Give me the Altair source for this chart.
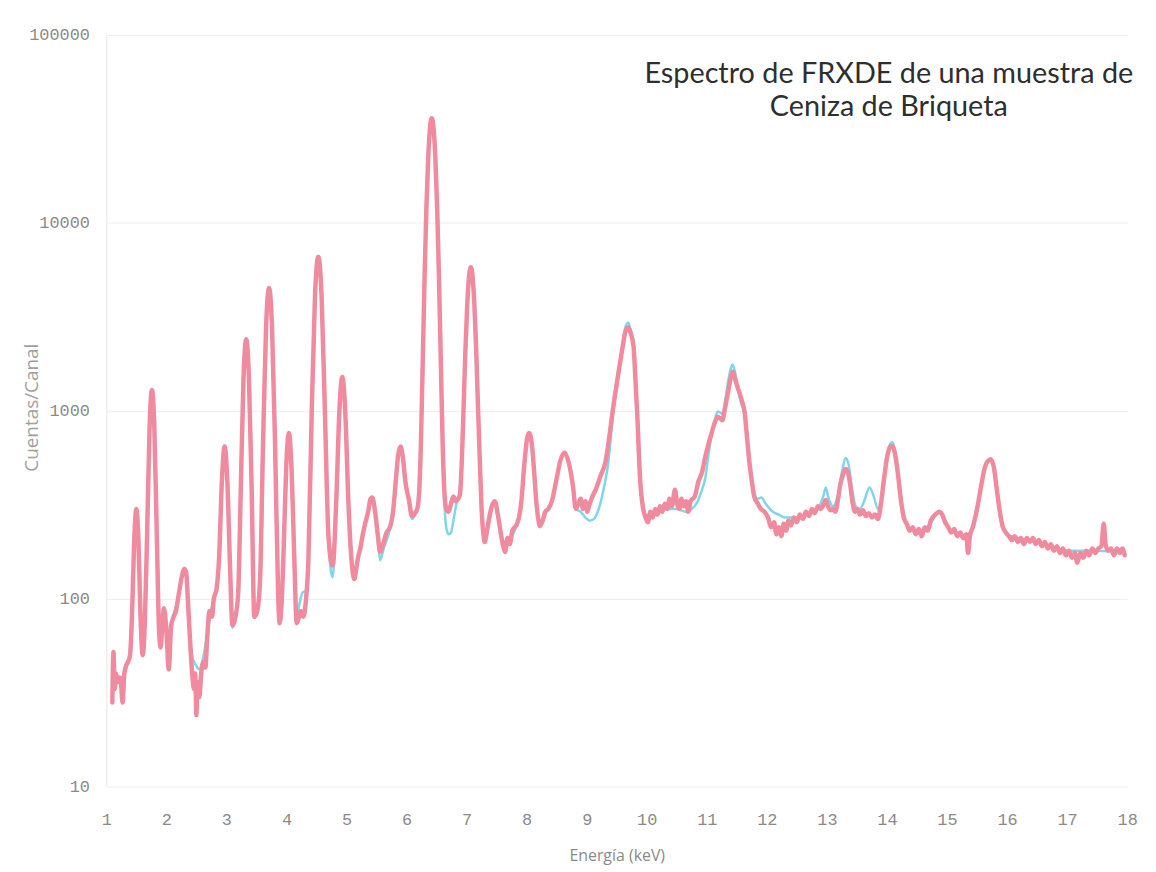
import altair as alt
import pandas as pd

# Measured spectrum (pink): (energy keV, counts/channel)
measured = [
    (1.10, 28), (1.12, 52), (1.14, 33), (1.16, 40), (1.19, 36), (1.22, 38), (1.25, 34), (1.27, 28),
    (1.30, 40), (1.33, 44), (1.36, 46), (1.395, 50), (1.43, 85), (1.465, 205), (1.50, 300), (1.535, 205),
    (1.57, 80), (1.605, 50), (1.64, 72), (1.68, 225), (1.72, 805), (1.76, 1290), (1.80, 805), (1.84, 225),
    (1.88, 66), (1.905, 55), (1.93, 70), (1.96, 89), (2.00, 68), (2.04, 42), (2.08, 72), (2.12, 80),
    (2.16, 86), (2.19, 98), (2.22, 112), (2.26, 132), (2.30, 144), (2.33, 138), (2.36, 96), (2.40, 56),
    (2.43, 40), (2.46, 33), (2.48, 40), (2.50, 24), (2.52, 36), (2.55, 30), (2.58, 40), (2.62, 46),
    (2.65, 43), (2.68, 62), (2.72, 86), (2.76, 80), (2.79, 100), (2.835, 112), (2.88, 170), (2.925, 425),
    (2.97, 645), (3.015, 425), (3.06, 150), (3.10, 72), (3.15, 80), (3.195, 105), (3.24, 390), (3.285, 1490),
    (3.33, 2400), (3.375, 1490), (3.42, 390), (3.465, 80), (3.51, 85), (3.56, 125), (3.61, 670), (3.66, 2760),
    (3.71, 4500), (3.76, 2760), (3.81, 670), (3.86, 110), (3.885, 74), (3.92, 95), (3.95, 170), (3.995, 490),
    (4.04, 760), (4.085, 490), (4.13, 168), (4.17, 74), (4.20, 78), (4.24, 86), (4.28, 80), (4.32, 95),
    (4.365, 160), (4.42, 970), (4.475, 4050), (4.53, 6600), (4.585, 4050), (4.64, 1000), (4.695, 230), (4.74, 160),
    (4.77, 150), (4.83, 335), (4.88, 975), (4.93, 1510), (4.98, 975), (5.03, 335), (5.08, 165), (5.13, 127),
    (5.17, 150), (5.20, 170), (5.23, 185), (5.26, 210), (5.30, 243), (5.36, 290), (5.40, 340), (5.43, 345),
    (5.47, 300), (5.52, 220), (5.56, 177), (5.60, 190), (5.66, 222), (5.73, 243), (5.78, 300), (5.82, 420),
    (5.86, 580), (5.90, 645), (5.94, 560), (5.98, 420), (6.04, 335), (6.09, 275), (6.14, 285), (6.18, 302),
    (6.21, 370), (6.24, 690), (6.27, 1860), (6.30, 5100), (6.33, 11900), (6.36, 22000), (6.39, 31800), (6.42, 36000),
    (6.45, 31800), (6.48, 22000), (6.51, 11900), (6.54, 5100), (6.57, 1860), (6.60, 690), (6.63, 370), (6.66, 302),
    (6.70, 290), (6.74, 320), (6.78, 350), (6.82, 330), (6.86, 340), (6.89, 360), (6.92, 540), (6.95, 1040),
    (6.98, 2090), (7.01, 3640), (7.04, 5150), (7.07, 5800), (7.10, 5150), (7.13, 3640), (7.16, 2090), (7.19, 1040),
    (7.22, 540), (7.25, 300), (7.28, 220), (7.30, 200), (7.33, 220), (7.37, 262), (7.42, 310), (7.47, 330),
    (7.52, 280), (7.57, 222), (7.61, 190), (7.64, 177), (7.68, 210), (7.72, 195), (7.76, 230), (7.80, 240),
    (7.84, 250), (7.89, 290), (7.92, 350), (7.95, 470), (7.98, 600), (8.01, 720), (8.04, 760), (8.07, 720),
    (8.10, 600), (8.13, 450), (8.16, 330), (8.19, 270), (8.22, 243), (8.27, 262), (8.31, 290), (8.36, 300),
    (8.42, 330), (8.49, 420), (8.56, 540), (8.63, 600), (8.70, 530), (8.77, 400), (8.82, 300), (8.86, 320),
    (8.90, 340), (8.94, 300), (8.98, 330), (9.01, 290), (9.04, 312), (9.08, 340), (9.15, 380), (9.23, 450),
    (9.31, 530), (9.37, 700), (9.43, 980), (9.53, 1600), (9.60, 2200), (9.64, 2600), (9.69, 2780), (9.73, 2600),
    (9.78, 2200), (9.81, 1500), (9.84, 980), (9.89, 430), (9.94, 300), (9.98, 270), (10.02, 255), (10.06, 290),
    (10.10, 270), (10.14, 300), (10.18, 280), (10.22, 310), (10.26, 290), (10.30, 320), (10.34, 300), (10.38, 340),
    (10.42, 310), (10.47, 380), (10.50, 330), (10.54, 300), (10.58, 340), (10.62, 310), (10.66, 330), (10.69, 290),
    (10.73, 330), (10.80, 350), (10.86, 420), (10.92, 470), (10.97, 560), (11.02, 650), (11.08, 760), (11.13, 860),
    (11.18, 930), (11.22, 910), (11.26, 890), (11.30, 1020), (11.35, 1240), (11.40, 1500), (11.43, 1610), (11.47, 1480),
    (11.51, 1340), (11.55, 1230), (11.58, 1140), (11.63, 980), (11.67, 720), (11.71, 530), (11.75, 420), (11.79, 350),
    (11.85, 320), (11.90, 300), (11.96, 290), (12.02, 270), (12.07, 240), (12.12, 255), (12.16, 220), (12.20, 240),
    (12.24, 215), (12.28, 250), (12.32, 230), (12.36, 260), (12.40, 245), (12.45, 270), (12.50, 255), (12.55, 280),
    (12.60, 265), (12.65, 290), (12.70, 275), (12.75, 300), (12.80, 285), (12.85, 310), (12.90, 300), (12.95, 320),
    (12.98, 335), (13.02, 310), (13.06, 295), (13.10, 300), (13.14, 290), (13.18, 330), (13.22, 400), (13.27, 460),
    (13.31, 490), (13.35, 470), (13.39, 400), (13.43, 320), (13.47, 290), (13.51, 300), (13.55, 280), (13.60, 295),
    (13.65, 275), (13.70, 285), (13.75, 270), (13.80, 280), (13.85, 265), (13.90, 320), (13.95, 430), (14.00, 560),
    (14.05, 640), (14.09, 650), (14.13, 600), (14.18, 470), (14.23, 340), (14.28, 270), (14.33, 250), (14.38, 230),
    (14.43, 240), (14.48, 220), (14.53, 235), (14.58, 215), (14.63, 240), (14.68, 230), (14.73, 260), (14.78, 275),
    (14.83, 285), (14.87, 290), (14.92, 280), (14.97, 255), (15.02, 240), (15.07, 225), (15.12, 235), (15.17, 215),
    (15.22, 225), (15.27, 210), (15.32, 220), (15.35, 175), (15.38, 215), (15.43, 240), (15.50, 300), (15.57, 400),
    (15.63, 500), (15.68, 540), (15.73, 550), (15.78, 500), (15.83, 380), (15.88, 290), (15.93, 240), (15.98, 225),
    (16.03, 215), (16.08, 205), (16.13, 215), (16.18, 200), (16.23, 210), (16.28, 195), (16.33, 210), (16.38, 200),
    (16.43, 210), (16.48, 195), (16.53, 205), (16.58, 190), (16.63, 200), (16.68, 185), (16.73, 195), (16.78, 180),
    (16.83, 190), (16.88, 175), (16.93, 185), (16.98, 170), (17.03, 180), (17.08, 165), (17.13, 175), (17.17, 155),
    (17.22, 175), (17.27, 165), (17.32, 180), (17.37, 170), (17.42, 185), (17.47, 175), (17.52, 185), (17.57, 190),
    (17.61, 250), (17.64, 195), (17.68, 180), (17.73, 185), (17.78, 170), (17.83, 185), (17.88, 175), (17.92, 185),
    (17.96, 170),
]

# Fitted spectrum (cyan): (energy keV, counts/channel)
fitted = [
    (1.10, 38), (1.20, 37), (1.30, 40), (1.36, 46), (1.395, 50), (1.43, 85), (1.465, 205), (1.50, 300),
    (1.535, 205), (1.57, 80), (1.605, 52), (1.64, 72), (1.68, 225), (1.72, 805), (1.76, 1290), (1.80, 805),
    (1.84, 225), (1.88, 66), (1.92, 62), (1.97, 80), (2.04, 62), (2.12, 82), (2.19, 100), (2.26, 132),
    (2.30, 144), (2.33, 138), (2.36, 96), (2.40, 60), (2.44, 48), (2.48, 45), (2.55, 42), (2.62, 50),
    (2.68, 65), (2.74, 85), (2.79, 100), (2.835, 112), (2.88, 170), (2.925, 425), (2.97, 645), (3.015, 425),
    (3.06, 150), (3.10, 70), (3.15, 78), (3.195, 105), (3.24, 390), (3.285, 1490), (3.33, 2400), (3.375, 1490),
    (3.42, 390), (3.465, 82), (3.51, 85), (3.56, 125), (3.61, 670), (3.66, 2760), (3.71, 4500), (3.76, 2760),
    (3.81, 670), (3.86, 110), (3.885, 76), (3.92, 95), (3.95, 170), (3.995, 490), (4.04, 760), (4.085, 490),
    (4.13, 168), (4.17, 80), (4.22, 95), (4.27, 108), (4.32, 110), (4.365, 160), (4.42, 970), (4.475, 4050),
    (4.53, 6600), (4.585, 4050), (4.64, 1000), (4.695, 220), (4.74, 140), (4.77, 130), (4.83, 335), (4.88, 975),
    (4.93, 1510), (4.98, 975), (5.03, 335), (5.08, 160), (5.13, 130), (5.20, 165), (5.30, 240), (5.36, 290),
    (5.40, 340), (5.43, 345), (5.47, 295), (5.52, 205), (5.56, 160), (5.62, 185), (5.73, 240), (5.78, 300),
    (5.82, 420), (5.86, 580), (5.90, 645), (5.94, 560), (5.98, 420), (6.04, 320), (6.09, 265), (6.14, 280),
    (6.18, 302), (6.21, 370), (6.24, 690), (6.27, 1860), (6.30, 5100), (6.33, 11900), (6.36, 22000), (6.39, 31800),
    (6.42, 36000), (6.45, 31800), (6.48, 22000), (6.51, 11900), (6.54, 5100), (6.57, 1860), (6.60, 690), (6.63, 330),
    (6.66, 240), (6.70, 220), (6.74, 225), (6.78, 260), (6.83, 320), (6.89, 360), (6.92, 540), (6.95, 1040),
    (6.98, 2090), (7.01, 3640), (7.04, 5150), (7.07, 5800), (7.10, 5150), (7.13, 3640), (7.16, 2090), (7.19, 1040),
    (7.22, 540), (7.25, 300), (7.28, 220), (7.31, 205), (7.37, 255), (7.42, 305), (7.47, 330), (7.52, 280),
    (7.57, 220), (7.64, 195), (7.72, 205), (7.80, 230), (7.84, 250), (7.89, 290), (7.92, 350), (7.95, 470),
    (7.98, 600), (8.01, 720), (8.04, 760), (8.07, 720), (8.10, 600), (8.13, 450), (8.16, 330), (8.19, 270),
    (8.24, 250), (8.31, 280), (8.36, 300), (8.42, 330), (8.49, 420), (8.56, 540), (8.63, 600), (8.70, 530),
    (8.77, 400), (8.82, 300), (8.90, 290), (8.98, 270), (9.05, 260), (9.12, 265), (9.20, 300), (9.28, 380),
    (9.36, 530), (9.43, 900), (9.53, 1600), (9.60, 2250), (9.64, 2750), (9.69, 2950), (9.73, 2700), (9.78, 2200),
    (9.81, 1500), (9.84, 980), (9.89, 430), (9.94, 300), (9.98, 275), (10.05, 280), (10.20, 290), (10.35, 300),
    (10.50, 300), (10.65, 290), (10.75, 300), (10.85, 330), (10.92, 380), (10.97, 430), (11.02, 560), (11.08, 740),
    (11.13, 880), (11.18, 990), (11.22, 980), (11.26, 960), (11.30, 1100), (11.35, 1400), (11.40, 1680), (11.43, 1760),
    (11.47, 1600), (11.52, 1300), (11.57, 1100), (11.63, 950), (11.67, 700), (11.71, 520), (11.75, 410), (11.79, 360),
    (11.85, 340), (11.91, 345), (11.98, 320), (12.10, 290), (12.20, 280), (12.30, 270), (12.50, 270), (12.70, 280),
    (12.85, 300), (12.95, 360), (12.98, 390), (13.03, 340), (13.10, 310), (13.18, 350), (13.25, 470), (13.31, 560),
    (13.36, 520), (13.42, 380), (13.48, 310), (13.55, 300), (13.62, 330), (13.71, 390), (13.78, 350), (13.85, 300),
    (13.92, 360), (13.98, 520), (14.04, 650), (14.09, 680), (14.14, 600), (14.19, 450), (14.25, 320), (14.32, 250),
    (14.50, 225), (14.70, 245), (14.87, 290), (15.05, 235), (15.30, 215), (15.45, 250), (15.57, 400), (15.68, 540),
    (15.73, 560), (15.80, 470), (15.88, 290), (16.00, 220), (16.50, 200), (17.00, 180), (17.50, 180), (17.96, 175),
]

title_lines = ["Espectro de FRXDE de una muestra de", "Ceniza de Briqueta"]
x_ticks = list(range(1, 19))
y_ticks = [10, 100, 1000, 10000, 100000]
x_title = "Energía (keV)"
y_title = "Cuentas/Canal"

df_meas = pd.DataFrame(measured, columns=["E", "C"])
df_fit = pd.DataFrame(fitted, columns=["E", "C"])
df_title = pd.DataFrame({"t": ["\n".join(title_lines)]})

xs = alt.Scale(domain=[1, 18], nice=False, zero=False)
ys = alt.Scale(type="log", domain=[10, 100000], nice=False)

x_axis = alt.Axis(
    values=x_ticks, format="d", title=x_title, grid=False, ticks=False, domain=False,
    labelFont="Liberation Mono", labelFontSize=17, labelColor="#8a8a8a", labelPadding=25,
    labelFlush=False, titleFont="Open Sans", titleFontSize=16, titleColor="#8a8a8a",
    titleFontWeight="normal", titleY=69, titleBaseline="middle",
)
y_axis = alt.Axis(
    values=y_ticks, format="d", title=y_title, grid=True, gridColor="#ededed", gridWidth=1,
    ticks=False, domain=True, domainColor="#e6e6e6", labelFont="Liberation Mono", labelFontSize=17,
    labelColor="#8a8a8a", labelPadding=17, titleFont="Open Sans", titleFontSize=19,
    titleColor="#a0a0a0", titleFontWeight="normal", titleX=-75, titleY=375,
    titleBaseline="middle", titleAlign="center",
)

fit_line = alt.Chart(df_fit).mark_line(
    color="#7fd6ea", strokeWidth=2.5, interpolate="monotone", strokeJoin="round"
).encode(x=alt.X("E:Q", scale=xs, axis=x_axis), y=alt.Y("C:Q", scale=ys, axis=y_axis))

meas_line = alt.Chart(df_meas).mark_line(
    color="#f08a9e", strokeWidth=4.5, interpolate="monotone", strokeJoin="round", strokeCap="round"
).encode(x=alt.X("E:Q", scale=xs), y=alt.Y("C:Q", scale=ys))

title_text = alt.Chart(df_title).mark_text(
    align="center", baseline="middle", lineBreak="\n", lineHeight=34,
    font="Lato", fontSize=29, color="#2e2e2e",
).encode(text="t:N", x=alt.value(788), y=alt.value(39))

chart = alt.layer(fit_line, meas_line, title_text).properties(
    width=1028, height=757,
    autosize=alt.AutoSizeParams(type="none"),
    padding={"left": 99, "top": 24, "right": 21, "bottom": 83},
    background="white",
).configure_view(stroke=None)

chart.save("out.html", embed_options={"renderer": "svg", "actions": False})
